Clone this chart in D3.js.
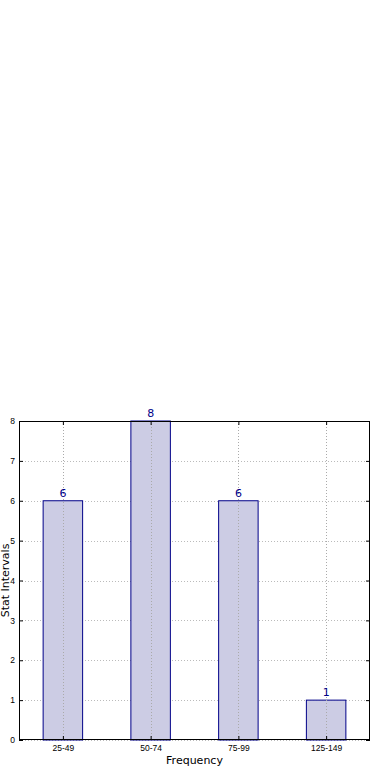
<!DOCTYPE html>
<html>
<head>
<meta charset="utf-8">
<script src="https://cdn.jsdelivr.net/npm/d3@7"></script>
<style>
  body { margin: 0; background: #fff; }
  svg { display: block; font-family: "DejaVu Sans", sans-serif; }
</style>
</head>
<body>
<div id="container"></div>
<script>
// categorias e valores
const categorias = ["25-49", "50-74", "75-99", "125-149"]
const valores = [6, 8, 6, 1]
const yTicks = [0, 1, 2, 3, 4, 5, 6, 7, 8]

const width = 390
const height = 780
const margin = { top: 421, right: 20, bottom: 40, left: 19 }

const svg = d3.select("#container").append("svg")
  .attr("width", width)
  .attr("height", height)

const x = d3.scaleLinear()
  .domain([-0.5, categorias.length - 0.5])
  .range([margin.left, width - margin.right])

const y = d3.scaleLinear()
  .domain([0, 8])
  .range([height - margin.bottom, margin.top])

const barW = 0.45

// grelha
const grid = svg.append("g")
  .attr("stroke", "#bbb")
  .attr("stroke-width", 1)
  .attr("stroke-dasharray", "1,2")

grid.selectAll(".gy")
  .data(yTicks)
  .join("line")
  .attr("x1", margin.left).attr("x2", width - margin.right)
  .attr("y1", d => Math.round(y(d)) + 0.5).attr("y2", d => Math.round(y(d)) + 0.5)

// barras
svg.append("g")
  .selectAll("rect")
  .data(valores)
  .join("rect")
  .attr("x", (d, i) => x(i - barW / 2))
  .attr("y", d => y(d))
  .attr("width", x(barW) - x(0))
  .attr("height", d => y(0) - y(d))
  .attr("fill", "#ccccе4".replace("е", "e"))
  .attr("stroke", "#000088")
  .attr("stroke-width", 1)

svg.append("g")
  .attr("stroke", "#aaa")
  .attr("stroke-width", 1)
  .attr("stroke-dasharray", "1,2")
  .selectAll("line")
  .data(categorias)
  .join("line")
  .attr("x1", (d, i) => Math.round(x(i)) + 0.5).attr("x2", (d, i) => Math.round(x(i)) + 0.5)
  .attr("y1", margin.top).attr("y2", height - margin.bottom)

// etiquetas de valor
svg.append("g")
  .selectAll("text")
  .data(valores)
  .join("text")
  .attr("x", (d, i) => x(i))
  .attr("y", d => y(d) - 4)
  .attr("text-anchor", "middle")
  .attr("fill", "#000088")
  .style("font-size", "11px")
  .text(d => d)

// eixos
const xAxis = d3.axisBottom(x)
  .tickValues(d3.range(categorias.length))
  .tickFormat(i => categorias[i])
  .tickSize(-4)
  .tickPadding(5)

const yAxis = d3.axisLeft(y)
  .tickValues(yTicks)
  .tickSize(-4)
  .tickPadding(4)

svg.append("g")
  .attr("transform", `translate(0,${height - margin.bottom})`)
  .call(xAxis)
  .call(g => g.select(".domain").remove())
  .call(g => g.selectAll("line").attr("stroke", "#000"))
  .call(g => g.selectAll("text").style("font-size", "8.5px").attr("fill", "#000"))

svg.append("g")
  .attr("transform", `translate(${margin.left},0)`)
  .call(yAxis)
  .call(g => g.select(".domain").remove())
  .call(g => g.selectAll("line").attr("stroke", "#000"))
  .call(g => g.selectAll("text").style("font-size", "8.5px").attr("fill", "#000"))

// ticks espelhados (topo e direita)
svg.append("g")
  .attr("transform", `translate(0,${margin.top})`)
  .call(d3.axisTop(x).tickValues(d3.range(categorias.length)).tickSize(-4).tickFormat(""))
  .call(g => g.select(".domain").remove())
  .call(g => g.selectAll("line").attr("stroke", "#000"))

svg.append("g")
  .attr("transform", `translate(${width - margin.right},0)`)
  .call(d3.axisRight(y).tickValues(yTicks).tickSize(-4).tickFormat(""))
  .call(g => g.select(".domain").remove())
  .call(g => g.selectAll("line").attr("stroke", "#000"))

// moldura
svg.append("rect")
  .attr("x", margin.left + 0.5)
  .attr("y", margin.top + 0.5)
  .attr("width", width - margin.left - margin.right - 1)
  .attr("height", height - margin.top - margin.bottom - 1)
  .attr("fill", "none")
  .attr("stroke", "#000")

// títulos dos eixos
svg.append("text")
  .attr("x", (margin.left + width - margin.right) / 2)
  .attr("y", 764)
  .attr("text-anchor", "middle")
  .style("font-size", "11px")
  .text("Frequency")

svg.append("text")
  .attr("transform", `translate(9,${(margin.top + height - margin.bottom) / 2}) rotate(-90)`)
  .attr("text-anchor", "middle")
  .style("font-size", "11px")
  .text("Stat Intervals")
</script>
</body>
</html>
